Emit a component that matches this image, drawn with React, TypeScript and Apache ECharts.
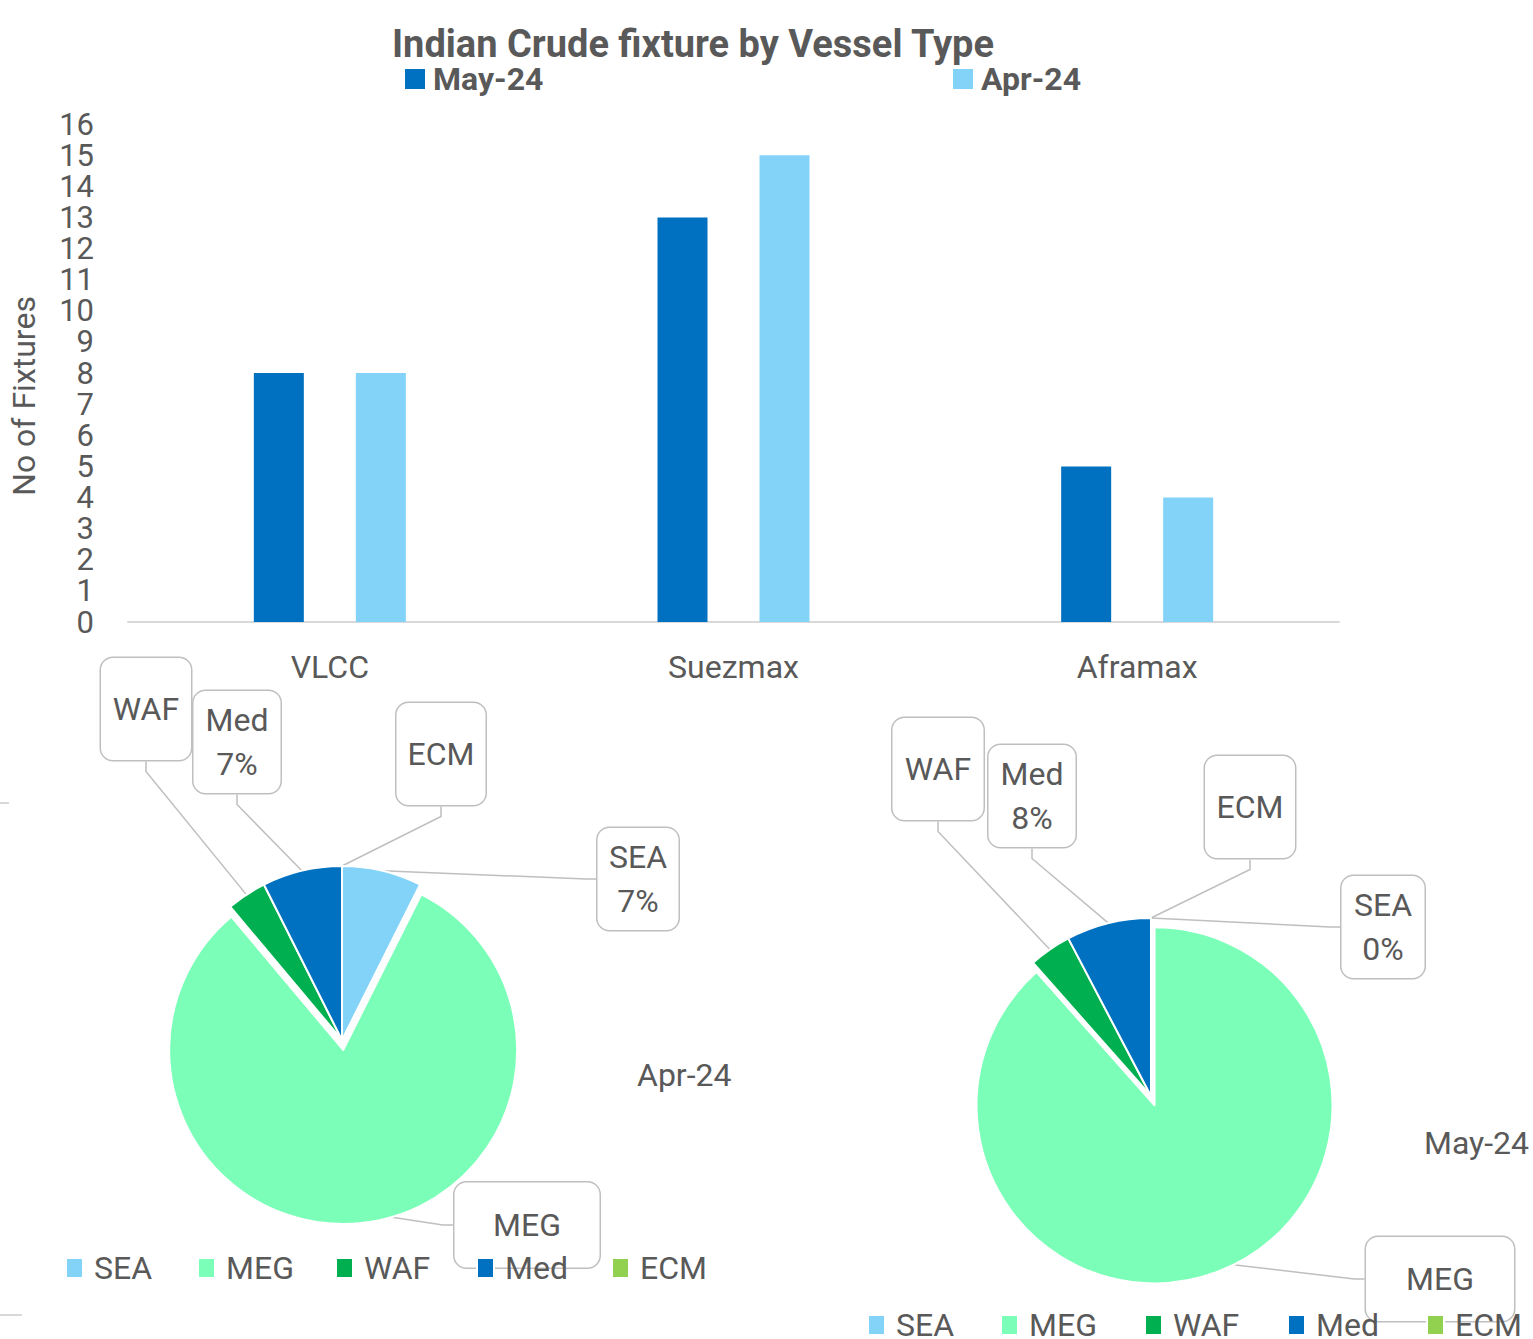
import React, { useEffect, useRef } from "react";
import * as echarts from "echarts";

const categories = ["VLCC", "Suezmax", "Aframax"];
const may24 = [8, 13, 5];
const apr24 = [8, 15, 4];
const yMax = 16;

const regions = ["SEA", "MEG", "WAF", "Med", "ECM"];
const aprShares = [2, 22, 1, 2, 0];
const mayShares = [0, 23, 1, 2, 0];
const pctLabels = ["SEA", "Med"];
const explodedRegion = "MEG";
const regionColors = ["#82D3F7", "#7BFFB8", "#00B050", "#0070C0", "#92D050"];

// label boxes: [cx, cy, width, height]
const aprBoxes = [
  [638, 879, 84, 102],
  [527, 1225, 148, 85],
  [146, 709, 93, 102],
  [237, 742, 90, 102],
  [441, 754, 92, 102],
];
const mayBoxes = [
  [1383, 927, 86, 102],
  [1440, 1279, 151, 84],
  [938, 769, 94, 102],
  [1032, 796, 90, 102],
  [1250, 807, 93, 102],
];
const aprLegendX = [65, 197, 335, 476, 611];
const mayLegendX = [867, 1000, 1144, 1287, 1426];

const GREY = "#595959";
const LINE = "#BFBFBF";
const FS = 32;
const LH = 44;

function labelBase() {
  return {
    show: true,
    formatter: (p: any) =>
      pctLabels.includes(p.name) ? `${p.name}\n${Math.round(p.percent)}%` : p.name,
    fontSize: FS,
    fontFamily: "Roboto",
    color: GREY,
    lineHeight: LH,
    backgroundColor: "#fff",
    borderColor: LINE,
    borderWidth: 1.5,
    borderRadius: 12,
    align: "center",
  };
}

function itemLabel(r: string, b: number[], show: boolean) {
  const lines = pctLabels.includes(r) ? 2 : 1;
  const pv = Math.max(0, (b[3] - lines * LH) / 2);
  return { show, width: b[2] - 3, padding: [pv, 0, pv, 0] };
}

function pieSeries(name: string, values: number[], boxes: number[][], center: number[], radius: number) {
  const layout = (params: any) => {
    const b = boxes[params.dataIndex];
    return { x: b[0], y: b[1], align: "center", verticalAlign: "middle" };
  };
  const common = {
    type: "pie",
    center,
    radius,
    startAngle: 90,
    clockwise: true,
    avoidLabelOverlap: false,
    emphasis: { disabled: true },
    labelLine: { show: true, length: 10, length2: 10, lineStyle: { color: LINE, width: 1.5 } },
    labelLayout: layout,
    label: labelBase(),
  };
  const main = {
    ...common,
    name,
    selectedMode: "single",
    selectedOffset: 10,
    select: { itemStyle: { borderColor: "#fff", borderWidth: 2 } },
    itemStyle: { borderColor: "#fff", borderWidth: 2 },
    data: regions.map((r, i) => ({
      name: r,
      value: values[i],
      selected: r === explodedRegion,
      itemStyle: { color: regionColors[i] },
      label: itemLabel(r, boxes[i], r !== explodedRegion),
      labelLine: { show: r !== explodedRegion },
    })),
  };
  // overlay carrying the exploded slice's callout (selected-state labels ignore labelLayout)
  const overlay = {
    ...common,
    name: name + " callout",
    silent: true,
    legendHoverLink: false,
    selectedMode: false,
    itemStyle: { color: "rgba(0,0,0,0)", borderWidth: 0 },
    data: regions.map((r, i) => ({
      name: r,
      value: values[i],
      itemStyle: { color: "rgba(0,0,0,0)" },
      label: itemLabel(r, boxes[i], r === explodedRegion),
      labelLine: { show: r === explodedRegion },
    })),
  };
  return [main, overlay];
}

export default function App() {
  const ref = useRef<HTMLDivElement>(null);
  useEffect(() => {
    document.body.style.margin = "0";
    const chart = echarts.init(ref.current!, undefined, { renderer: "svg" });

    const legendText = { fontSize: FS, color: GREY, fontFamily: "Roboto", padding: [0, 0, 0, 6] };
    const pieLegends: any[] = [];
    regions.forEach((r, i) => {
      pieLegends.push({
        data: [r],
        left: aprLegendX[i] - 5,
        top: 1247,
        itemWidth: 17,
        itemHeight: 20,
        icon: "rect",
        selectedMode: false,
        textStyle: legendText,
      });
      pieLegends.push({
        data: [r],
        left: mayLegendX[i] - 5,
        top: 1304,
        itemWidth: 17,
        itemHeight: 20,
        icon: "rect",
        selectedMode: false,
        textStyle: legendText,
      });
    });

    const topLegendText = { fontSize: FS, fontWeight: "bold", color: GREY, fontFamily: "Roboto", padding: [0, 0, 0, 3] };

    const option: any = {
      animation: false,
      textStyle: { fontFamily: "Roboto" },
      title: [
        {
          text: "Indian Crude fixture by Vessel Type",
          left: 688,
          textAlign: "center",
          top: 20,
          textStyle: { fontSize: 38, fontWeight: "bold", color: GREY, fontFamily: "Roboto" },
        },
        {
          text: "Apr-24",
          left: 632,
          top: 1054,
          textStyle: { fontSize: FS, fontWeight: "normal", color: GREY, fontFamily: "Roboto" },
        },
        {
          text: "May-24",
          left: 1419,
          top: 1122,
          textStyle: { fontSize: FS, fontWeight: "normal", color: GREY, fontFamily: "Roboto" },
        },
      ],
      legend: [
        {
          data: ["May-24"],
          left: 400,
          top: 58,
          itemWidth: 20,
          itemHeight: 20,
          icon: "rect",
          selectedMode: false,
          textStyle: topLegendText,
        },
        {
          data: ["Apr-24"],
          left: 948,
          top: 58,
          itemWidth: 20,
          itemHeight: 20,
          icon: "rect",
          selectedMode: false,
          textStyle: topLegendText,
        },
        ...pieLegends,
      ],
      grid: { left: 127, right: 194, top: 124, bottom: 717, containLabel: false },
      xAxis: {
        type: "category",
        data: categories,
        axisLine: { show: true, lineStyle: { color: "#D9D9D9", width: 2 } },
        axisTick: { show: false },
        axisLabel: { fontSize: FS, color: GREY, margin: 29, fontFamily: "Roboto" },
      },
      yAxis: {
        type: "value",
        min: 0,
        max: yMax,
        interval: 1,
        name: "No of Fixtures",
        nameLocation: "middle",
        nameRotate: 90,
        nameGap: 88,
        nameTextStyle: { fontSize: FS, color: GREY, fontFamily: "Roboto", padding: [0, 46, 0, 0] },
        axisLine: { show: false },
        axisTick: { show: false },
        splitLine: { show: false },
        axisLabel: {
          fontSize: 31,
          lineHeight: 28,
          color: GREY,
          margin: 34,
          fontFamily: "Roboto",
          showMinLabel: true,
          showMaxLabel: true,
          hideOverlap: false,
        },
      },
      graphic: [
        { type: "line", shape: { x1: 0, y1: 803, x2: 9, y2: 803 }, style: { stroke: "#D9D9D9", lineWidth: 2 } },
        { type: "line", shape: { x1: 0, y1: 1315, x2: 22, y2: 1315 }, style: { stroke: "#D9D9D9", lineWidth: 2 } },
      ],
      series: [
        { type: "bar", name: "May-24", data: may24, barWidth: 50, barGap: "104%", itemStyle: { color: "#0070C0" } },
        { type: "bar", name: "Apr-24", data: apr24, barWidth: 50, itemStyle: { color: "#82D3F7" } },
        ...pieSeries("Apr-24 share", aprShares, aprBoxes, [342, 1040], 174),
        ...pieSeries("May-24 share", mayShares, mayBoxes, [1151, 1096], 178),
      ],
    };
    chart.setOption(option);
    return () => chart.dispose();
  }, []);
  return <div ref={ref} style={{ width: 1533, height: 1339 }} />;
}
